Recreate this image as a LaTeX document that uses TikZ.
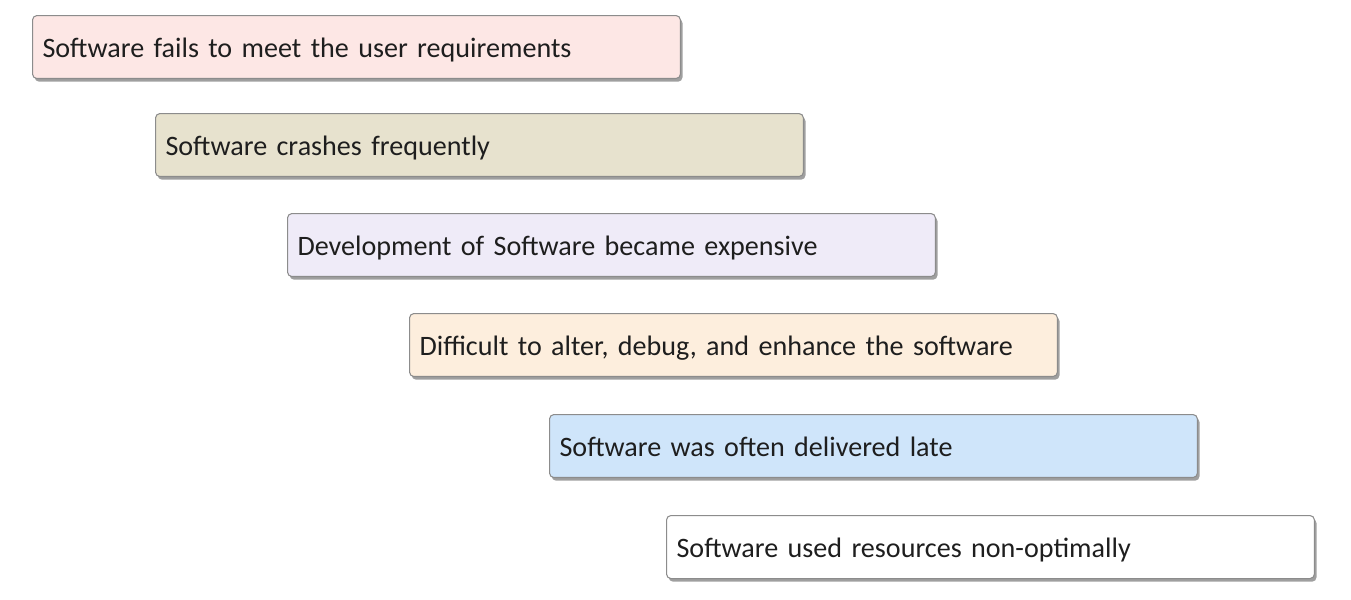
\documentclass[tikz,border=0pt]{standalone}
\usepackage{fontspec}
\setmainfont{Carlito}
\usetikzlibrary{shadows}
\definecolor{pinkfill}{HTML}{FDE7E5}
\definecolor{tanfill}{HTML}{E7E2CE}
\definecolor{lilacfill}{HTML}{EFEBF8}
\definecolor{peachfill}{HTML}{FDEEDD}
\definecolor{bluefill}{HTML}{CFE5FA}
\definecolor{boxline}{HTML}{8C8C8C}
\definecolor{inktext}{HTML}{1E1E1E}
\tikzset{
  issue/.style={draw=boxline, line width=0.6pt, rounded corners=2.5pt,
    anchor=north west, minimum height=1.26cm, text width=12.56cm,
    inner xsep=0.2cm, align=left, text=inktext, font=\fontsize{16}{18}\selectfont,
    text height=14pt, text depth=2pt,
    drop shadow={shadow xshift=1.2pt, shadow yshift=-1.8pt, opacity=0.5, fill=black!75}},
}
\begin{document}
\begin{tikzpicture}[x=0.02cm,y=-0.02cm]
\useasboundingbox (0,0) rectangle (1351,599);

\node[issue,fill=pinkfill] (fail) at (32,15) {Software fails to meet the user requirements};
\node[issue,fill=tanfill] (crash) at (155,113) {Software crashes frequently};
\node[issue,fill=lilacfill] (cost) at (287,213) {Development of Software became expensive};
\node[issue,fill=peachfill] (alter) at (409,313) {Difficult to alter, debug, and enhance the software};
\node[issue,fill=bluefill] (late) at (549,414) {Software was often delivered late};
\node[issue,fill=white] (waste) at (666,515) {Software used resources non-optimally};

\end{tikzpicture}
\end{document}
